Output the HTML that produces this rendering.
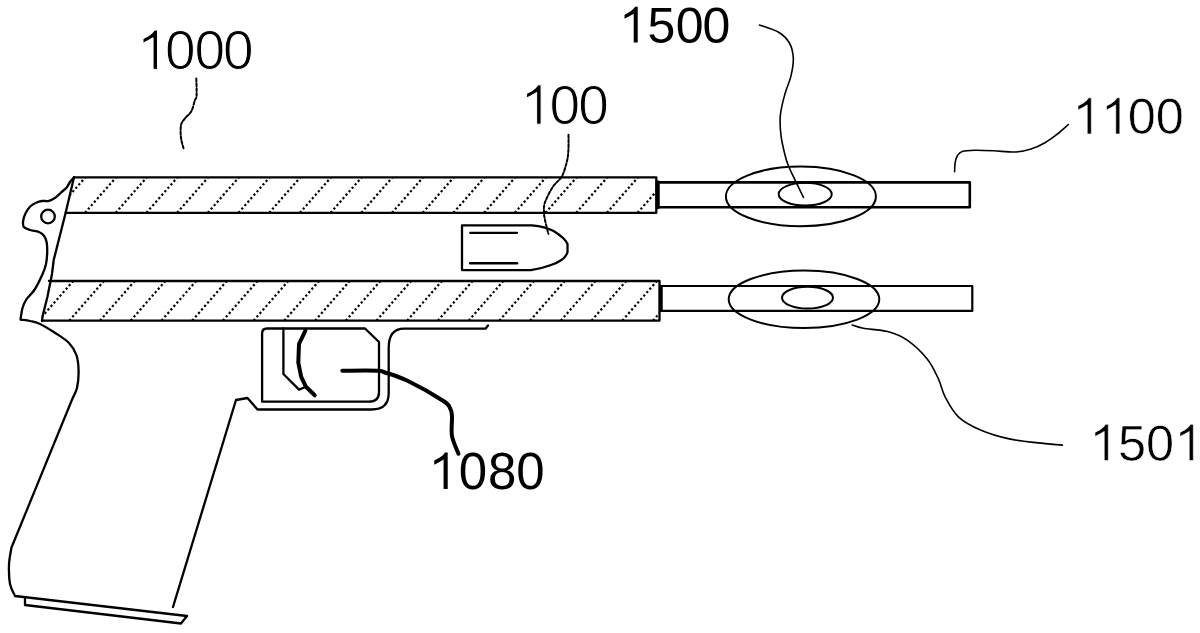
<!DOCTYPE html>
<html><head><meta charset="utf-8"><style>
html,body{margin:0;padding:0;background:#fff;width:1200px;height:633px;overflow:hidden}
svg{display:block}
text{font-family:"Liberation Sans",sans-serif}
</style></head><body>
<svg width="1200" height="633" viewBox="0 0 1200 633">
<rect width="1200" height="633" fill="#fff"/>
<defs>
<clipPath id="cu"><polygon points="74,177.3 656.3,177.3 656.3,212.8 65.6,212.8"/></clipPath>
<clipPath id="cl"><polygon points="49,281 659.5,281 659.5,320.6 42,320.6"/></clipPath>
</defs>
<g stroke="#000" stroke-width="2.3" fill="none" stroke-linecap="round" stroke-linejoin="round">
<!-- hatch -->
<g clip-path="url(#cu)" stroke-width="2.2" stroke="#000" stroke-dasharray="2.2 2.4" stroke-linecap="butt"><line x1="54.3" y1="212.8" x2="85.4" y2="177.3"/>
<line x1="85.0" y1="212.8" x2="116.1" y2="177.3"/>
<line x1="115.7" y1="212.8" x2="146.8" y2="177.3"/>
<line x1="146.4" y1="212.8" x2="177.5" y2="177.3"/>
<line x1="177.1" y1="212.8" x2="208.2" y2="177.3"/>
<line x1="207.8" y1="212.8" x2="238.9" y2="177.3"/>
<line x1="238.5" y1="212.8" x2="269.6" y2="177.3"/>
<line x1="269.2" y1="212.8" x2="300.3" y2="177.3"/>
<line x1="299.9" y1="212.8" x2="331.0" y2="177.3"/>
<line x1="330.6" y1="212.8" x2="361.7" y2="177.3"/>
<line x1="361.3" y1="212.8" x2="392.4" y2="177.3"/>
<line x1="392.0" y1="212.8" x2="423.1" y2="177.3"/>
<line x1="422.7" y1="212.8" x2="453.8" y2="177.3"/>
<line x1="453.4" y1="212.8" x2="484.5" y2="177.3"/>
<line x1="484.1" y1="212.8" x2="515.2" y2="177.3"/>
<line x1="514.8" y1="212.8" x2="545.9" y2="177.3"/>
<line x1="545.5" y1="212.8" x2="576.6" y2="177.3"/>
<line x1="576.2" y1="212.8" x2="607.3" y2="177.3"/>
<line x1="606.9" y1="212.8" x2="638.0" y2="177.3"/>
<line x1="637.6" y1="212.8" x2="668.7" y2="177.3"/>
<line x1="668.3" y1="212.8" x2="699.4" y2="177.3"/></g>
<g clip-path="url(#cl)" stroke-width="2.2" stroke="#000" stroke-dasharray="2.2 2.4" stroke-linecap="butt"><line x1="7.9" y1="320.6" x2="42.5" y2="281"/>
<line x1="38.6" y1="320.6" x2="73.2" y2="281"/>
<line x1="69.3" y1="320.6" x2="103.9" y2="281"/>
<line x1="100.0" y1="320.6" x2="134.7" y2="281"/>
<line x1="130.7" y1="320.6" x2="165.4" y2="281"/>
<line x1="161.5" y1="320.6" x2="196.1" y2="281"/>
<line x1="192.2" y1="320.6" x2="226.8" y2="281"/>
<line x1="222.9" y1="320.6" x2="257.5" y2="281"/>
<line x1="253.6" y1="320.6" x2="288.3" y2="281"/>
<line x1="284.3" y1="320.6" x2="319.0" y2="281"/>
<line x1="315.1" y1="320.6" x2="349.7" y2="281"/>
<line x1="345.8" y1="320.6" x2="380.4" y2="281"/>
<line x1="376.5" y1="320.6" x2="411.1" y2="281"/>
<line x1="407.2" y1="320.6" x2="441.9" y2="281"/>
<line x1="437.9" y1="320.6" x2="472.6" y2="281"/>
<line x1="468.7" y1="320.6" x2="503.3" y2="281"/>
<line x1="499.4" y1="320.6" x2="534.0" y2="281"/>
<line x1="530.1" y1="320.6" x2="564.7" y2="281"/>
<line x1="560.8" y1="320.6" x2="595.5" y2="281"/>
<line x1="591.5" y1="320.6" x2="626.2" y2="281"/>
<line x1="622.3" y1="320.6" x2="656.9" y2="281"/>
<line x1="653.0" y1="320.6" x2="687.6" y2="281"/></g>
<!-- upper barrel -->
<polyline points="74,177.3 656.3,177.3 656.3,212.8 65.6,212.8"/>
<!-- lower barrel -->
<polyline points="49,281 659.5,281 659.5,320.6 42,320.6"/>
<!-- inner diagonal (breech) -->
<polyline points="74,177.3 65.6,213 53.7,260 52,274 47.4,297 42.6,316 42,321"/>
<!-- outer contour -->
<path d="M74.0,177.3 C73.3,178.1 71.2,180.3 70.0,182.0 C68.8,183.7 68.0,185.9 66.5,187.7 C65.0,189.4 62.8,190.8 61.0,192.5 C59.2,194.2 57.5,196.2 55.5,197.6 C53.5,199.0 51.2,200.2 49.0,200.8 C46.8,201.4 44.2,200.7 42.0,201.0 C39.8,201.3 38.0,201.9 36.0,202.8 C34.0,203.7 31.9,204.8 30.2,206.5 C28.5,208.2 26.9,210.7 25.7,213.0 C24.5,215.3 23.5,218.3 23.2,220.6 C22.9,222.9 22.6,225.4 23.8,227.0 C25.0,228.6 27.7,229.2 30.2,230.0 C32.7,230.8 36.7,231.1 39.0,232.0 C41.3,232.9 42.7,234.0 44.0,235.7 C45.3,237.4 46.1,239.3 46.6,242.0 C47.1,244.7 47.3,248.3 47.2,252.0 C47.1,255.7 46.8,260.3 46.0,264.0 C45.2,267.7 44.5,269.8 42.6,274.0 C40.7,278.2 37.5,285.2 34.7,289.5 C31.9,293.8 28.0,296.9 26.0,300.0 C24.0,303.1 23.4,304.8 22.5,308.0 C21.6,311.2 20.8,317.6 20.5,319.5 L20.5,319.5 C22.1,319.8 26.8,320.3 30.0,321.0 C33.2,321.7 35.3,321.7 39.5,323.7 C43.7,325.7 50.4,329.8 55.3,333.0 C60.2,336.2 65.5,339.3 69.0,343.0 C72.5,346.7 74.8,350.3 76.4,355.0 C78.0,359.7 78.5,365.5 78.6,371.0 C78.7,376.5 78.0,383.5 77.0,388.0 C76.0,392.5 73.4,396.3 72.7,398.0 L72.7,398.0 C62.5,423.0 21.6,522.8 11.4,547.8 L11.4,547.8 C11.0,550.6 9.2,558.6 9.0,564.6 C8.8,570.6 9.0,578.8 10.0,584.0 C11.0,589.2 14.2,594.0 15.0,596.0 L15.0,596.0 C43.7,599.3 158.3,612.7 187.0,616.0"/>
<circle cx="48" cy="216.5" r="6.8"/>
<!-- magazine plate -->
<polyline points="25,599 25,605 181,623.5 187,616"/>
<!-- grip right + guard outer + frame -->
<path d="M173,607 L236,400 L247.5,398 L257.5,409.5 L371.7,409.5 Q388.7,409.5 388.7,393 L388.7,348 Q388.7,328.7 404,328.7 L485.5,328.7 L488,325.5"/>
<!-- guard inner -->
<path d="M267,328.5 L365,328.5 L379,342 L379,392 Q379,401.7 369,401.7 L262.1,401.7 L262.1,333.5 Q262.1,328.5 267,328.5 Z"/>
<!-- trigger -->
<polyline points="283.4,328.5 283.4,374 299,389.6 306,386.8"/>
<path d="M305.4,330.7 L299,344 L298.3,362.6 L301.2,376.8 L306,386.8 L314.7,395.3" stroke-width="4"/>
<!-- bullet -->
<path d="M462,225.3 L532,225.3 C540,226 548,228 553.6,231 C560,235 566,240 567.5,244 L567.5,252 C566,258 560,262 551,265 C543,268 536,269.5 530.9,270.1 L462,270.1 Z"/>
<line x1="470.2" y1="232.8" x2="517" y2="232.8"/>
<line x1="470.2" y1="263.2" x2="517" y2="263.2" stroke-width="2.5"/>
<!-- rods -->
<rect x="657" y="182.4" width="312.8" height="24.9" stroke-width="2.6"/>
<rect x="660" y="286" width="312.3" height="24.9" stroke-width="2.2"/>
<line x1="658" y1="182" x2="658" y2="207.6" stroke-width="3.5"/>
<line x1="661" y1="287" x2="661" y2="310" stroke-width="3.5"/>
<!-- ellipses -->
<ellipse cx="800.9" cy="196.4" rx="75" ry="29.8" stroke-width="2"/>
<ellipse cx="805.2" cy="194.2" rx="26.5" ry="11.4" stroke-width="2"/>
<ellipse cx="804" cy="299.3" rx="75.3" ry="28.7" stroke-width="2"/>
<ellipse cx="807.5" cy="297.7" rx="25.5" ry="10.85" stroke-width="2"/>
<!-- leaders -->
<path d="M196.3,78.5 C196.4,81.3 196.8,91.9 196.6,95.6 C196.3,99.3 195.7,98.0 194.8,100.6 C193.9,103.2 193.0,108.3 191.3,111.3 C189.7,114.3 186.6,116.3 184.9,118.4 C183.2,120.5 182.0,121.9 181.3,124.0 C180.6,126.1 180.6,128.6 180.6,131.2 C180.6,133.8 180.8,136.9 181.3,139.7 C181.8,142.5 183.1,146.8 183.5,148.2" stroke-width="2" stroke-dasharray="3 1.8"/>
<path d="M568.5,134.7 C568.5,137.2 568.7,145.6 568.4,150.0 C568.1,154.4 568.0,157.0 566.9,161.4 C565.8,165.8 564.3,172.0 561.9,176.3 C559.5,180.6 555.5,182.6 552.7,187.0 C549.9,191.4 546.4,198.3 544.9,202.6 C543.4,206.8 544.0,209.7 544.0,212.5 C544.0,215.3 544.2,216.0 544.9,219.6 C545.6,223.2 547.8,231.4 548.4,233.8" stroke-width="2" stroke-dasharray="3 1.8"/>
<path d="M759.5,25.0 C762.8,26.2 774.0,29.5 779.0,32.5 C784.0,35.5 787.0,38.8 789.4,43.0 C791.8,47.2 793.0,52.5 793.3,58.0 C793.6,63.5 792.4,69.9 791.0,75.9 C789.6,81.9 786.8,87.3 785.0,93.8 C783.2,100.3 781.1,107.8 780.4,114.8 C779.7,121.8 780.2,129.0 781.0,135.7 C781.8,142.4 783.8,149.9 785.0,155.0 C786.2,160.1 786.8,161.8 788.5,166.0 C790.2,170.2 792.5,174.8 795.0,180.0 C797.5,185.2 802.1,194.6 803.5,197.5" stroke-width="1.6"/>
<path d="M954.6,171.8 C954.7,170.2 954.7,165.2 955.2,162.5 C955.7,159.8 956.3,157.3 957.5,155.5 C958.7,153.7 959.3,152.3 962.2,151.4 C965.1,150.5 969.8,150.4 975.0,150.3 C980.2,150.2 986.9,150.5 993.7,150.8 C1000.5,151.1 1009.6,152.3 1015.8,152.0 C1022.0,151.7 1026.1,150.7 1031.0,149.1 C1035.9,147.5 1040.7,145.1 1045.0,142.7 C1049.3,140.3 1052.8,137.5 1056.7,134.5 C1060.6,131.5 1066.4,126.2 1068.3,124.6" stroke-width="1.6"/>
<path d="M852.2,325.0 C854.1,325.6 857.4,327.2 863.3,328.3 C869.2,329.4 880.2,329.6 887.6,331.6 C895.0,333.6 900.9,335.8 907.5,340.4 C914.1,345.0 922.2,352.7 927.4,359.2 C932.6,365.7 935.5,372.9 938.5,379.2 C941.5,385.5 941.8,390.5 945.1,396.8 C948.4,403.1 952.5,411.3 958.4,416.8 C964.3,422.3 972.0,426.3 980.5,430.0 C989.0,433.7 999.7,436.8 1009.3,438.9 C1018.9,441.0 1029.2,441.9 1038.0,442.9 C1046.8,443.9 1058.3,444.7 1062.4,445.1" stroke-width="1.6"/>
<path d="M342.3,370.7 C348.1,370.7 369.9,370.4 377.0,370.7 C384.1,371.0 379.8,370.8 385.0,372.5 C390.2,374.2 398.3,376.3 408.0,381.0 C417.7,385.7 436.0,396.2 443.0,400.7 C450.0,405.2 448.5,405.5 450.0,408.0 C451.5,410.5 451.7,411.2 452.0,415.9 C452.3,420.6 450.9,429.7 452.0,436.0 C453.1,442.3 457.4,450.8 458.5,453.8" stroke-width="4"/>
</g>
<!-- labels -->
<g fill="#000" stroke="#fff" stroke-width="1.0" style="font-size:55px"><polygon points="153.06,69.40 157.49,69.40 157.49,30.03 154.62,30.03 152.31,32.88 148.55,35.83 142.99,38.78 142.99,43.22 147.74,40.80 153.06,37.71"/><text x="165.10" y="69.40" font-size="55">0</text><text x="194.60" y="69.40" font-size="55">0</text><text x="223.10" y="69.40" font-size="55">0</text></g><g fill="#000" stroke="#fff" stroke-width="1.0" style="font-size:55px"><polygon points="536.66,124.20 541.09,124.20 541.09,84.83 538.22,84.83 535.91,87.68 532.15,90.63 526.59,93.58 526.59,98.02 531.34,95.60 536.66,92.51"/><text x="549.60" y="124.20" font-size="55">0</text><text x="578.30" y="124.20" font-size="55">0</text></g><g fill="#000" style="font-size:50px"><polygon points="633.70,42.50 637.73,42.50 637.73,6.71 635.12,6.71 633.02,9.30 629.60,11.98 624.54,14.67 624.54,18.70 628.87,16.50 633.70,13.69"/><text x="647.40" y="42.50" font-size="50">5</text><text x="675.80" y="42.50" font-size="50">0</text><text x="702.40" y="42.50" font-size="50">0</text></g><g fill="#000" stroke="#fff" stroke-width="0.6" style="font-size:50.5px"><polygon points="1087.25,134.00 1091.31,134.00 1091.31,97.85 1088.68,97.85 1086.56,100.46 1083.10,103.18 1078.00,105.89 1078.00,109.96 1082.36,107.74 1087.25,104.90"/><polygon points="1115.75,134.00 1119.81,134.00 1119.81,97.85 1117.18,97.85 1115.06,100.46 1111.60,103.18 1106.50,105.89 1106.50,109.96 1110.86,107.74 1115.75,104.90"/><text x="1127.80" y="134.00" font-size="50.5">0</text><text x="1155.80" y="134.00" font-size="50.5">0</text></g><g fill="#000" style="font-size:51px"><polygon points="443.59,489.00 447.70,489.00 447.70,452.49 445.04,452.49 442.89,455.13 439.41,457.87 434.25,460.61 434.25,464.72 438.66,462.48 443.59,459.62"/><text x="458.80" y="489.00" font-size="51">0</text><text x="487.90" y="489.00" font-size="51">8</text><text x="516.30" y="489.00" font-size="51">0</text></g><g fill="#000" stroke="#fff" stroke-width="0.6" style="font-size:50.5px"><polygon points="1104.25,460.50 1108.31,460.50 1108.31,424.35 1105.68,424.35 1103.56,426.96 1100.10,429.68 1095.00,432.39 1095.00,436.46 1099.36,434.24 1104.25,431.40"/><text x="1118.00" y="460.50" font-size="50.5">5</text><text x="1146.10" y="460.50" font-size="50.5">0</text><polygon points="1189.25,460.50 1193.31,460.50 1193.31,424.35 1190.68,424.35 1188.56,426.96 1185.10,429.68 1180.00,432.39 1180.00,436.46 1184.36,434.24 1189.25,431.40"/></g>
</svg>
</body></html>
